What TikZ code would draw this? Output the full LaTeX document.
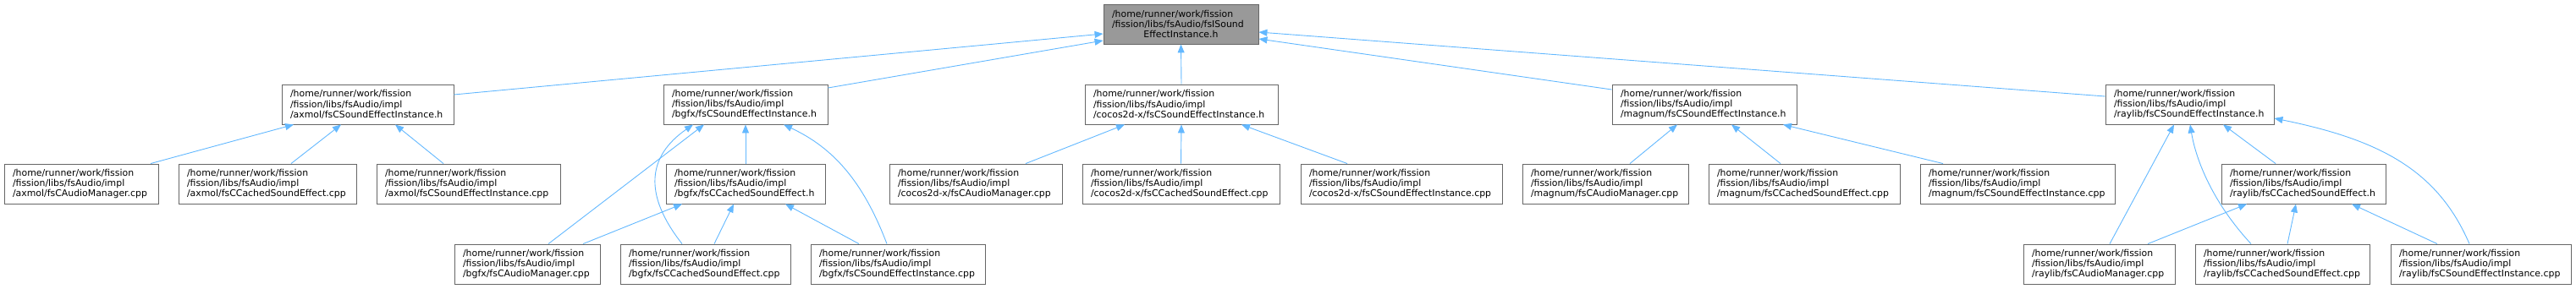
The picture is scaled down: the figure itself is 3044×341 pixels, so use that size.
\documentclass[tikz,border=0pt]{standalone}
\usepackage{fontspec}
\setmainfont{DejaVu Sans}
\usetikzlibrary{arrows.meta}
\definecolor{edgeblue}{HTML}{63B8FF}
\definecolor{boxborder}{HTML}{666666}
\definecolor{topfill}{HTML}{999999}
\tikzset{
  box/.style={draw=boxborder, line width=0.9pt, fill=white, inner xsep=10pt, inner ysep=0pt,
    align=left, font=\fontsize{10.9}{12.2}\selectfont, anchor=center},
  edge/.style={draw=edgeblue, line width=0.9pt, -{Triangle[length=10pt,width=8pt]}}
}
\newcommand\dbox[7][]{%
  \pgfmathsetmacro\bw{#5-#3}\pgfmathsetmacro\bh{#6-#4}\pgfmathsetmacro\tw{#5-#3-20}%
  \pgfmathsetmacro\cx{(#3+#5)/2}\pgfmathsetmacro\cy{(#4+#6)/2}%
  \node[box,#1,minimum width=\bw pt,minimum height=\bh pt,text width=\tw pt] (#2) at (\cx,\cy) {#7};}
\newcommand\pre{/home/runner/work/fission\\/fission/libs/fsAudio/impl\\}
\begin{document}
\begin{tikzpicture}[x=1pt,y=-1pt]
\useasboundingbox (0,0) rectangle (3044,341);
% row 1
\dbox[fill=topfill]{top}{1304}{5}{1487}{52}{/home/runner/work/fission\\/fission/libs/fsAudio/fsISound\\\makebox[163pt][c]{EffectInstance.h}}
% row 2
\dbox{axh}{333}{100}{536}{147}{\pre/axmol/fsCSoundEffectInstance.h}
\dbox{bgh}{784}{100}{978}{147}{\pre/bgfx/fsCSoundEffectInstance.h}
\dbox{coh}{1282}{100}{1510}{147}{\pre/cocos2d-x/fsCSoundEffectInstance.h}
\dbox{mah}{1905}{100}{2123}{147}{\pre/magnum/fsCSoundEffectInstance.h}
\dbox{rah}{2488}{100}{2687}{147}{\pre/raylib/fsCSoundEffectInstance.h}
% row 3
\dbox{axam}{5}{194}{187}{241}{\pre/axmol/fsCAudioManager.cpp}
\dbox{axcse}{211}{194}{421}{241}{\pre/axmol/fsCCachedSoundEffect.cpp}
\dbox{axsei}{445}{194}{662}{241}{\pre/axmol/fsCSoundEffectInstance.cpp}
\dbox{bgcseh}{787}{194}{975}{241}{\pre/bgfx/fsCCachedSoundEffect.h}
\dbox{coam}{1051}{194}{1255}{241}{\pre/cocos2d-x/fsCAudioManager.cpp}
\dbox{cocse}{1279}{194}{1512}{241}{\pre/cocos2d-x/fsCCachedSoundEffect.cpp}
\dbox{cosei}{1537}{194}{1775}{241}{\pre/cocos2d-x/fsCSoundEffectInstance.cpp}
\dbox{maam}{1799}{194}{1995}{241}{\pre/magnum/fsCAudioManager.cpp}
\dbox{macse}{2019}{194}{2245}{241}{\pre/magnum/fsCCachedSoundEffect.cpp}
\dbox{masei}{2269}{194}{2499}{241}{\pre/magnum/fsCSoundEffectInstance.cpp}
\dbox{racseh}{2625}{194}{2819}{241}{\pre/raylib/fsCCachedSoundEffect.h}
% row 4
\dbox{bgam}{537}{289}{709}{336}{\pre/bgfx/fsCAudioManager.cpp}
\dbox{bgcse}{733}{289}{934}{336}{\pre/bgfx/fsCCachedSoundEffect.cpp}
\dbox{bgsei}{958}{289}{1164}{336}{\pre/bgfx/fsCSoundEffectInstance.cpp}
\dbox{raam}{2391}{289}{2570}{336}{\pre/raylib/fsCAudioManager.cpp}
\dbox{racse}{2594}{289}{2800}{336}{\pre/raylib/fsCCachedSoundEffect.cpp}
\dbox{rasei}{2825}{289}{3038}{336}{\pre/raylib/fsCSoundEffectInstance.cpp}
% edges to top
\draw[edge] ([yshift=11.5pt]axh.east) -- ([yshift=-11.5pt]top.west);
\draw[edge] ([yshift=19.5pt]bgh.east) -- ([yshift=-19.5pt]top.west);
\draw[edge] (coh.north) -- (top.south);
\draw[edge] ([yshift=17.5pt]mah.west) -- ([yshift=-17.5pt]top.east);
\draw[edge] ([yshift=9.5pt]rah.west) -- ([yshift=-9.5pt]top.east);
% axmol
\draw[edge] ([xshift=82pt]axam.north) -- ([xshift=-87.5pt]axh.south);
\draw[edge] ([xshift=28pt]axcse.north) -- ([xshift=-31.5pt]axh.south);
\draw[edge] ([xshift=-29.5pt]axsei.north) -- ([xshift=32.5pt]axh.south);
% bgfx
\draw[edge] (bgcseh.north) -- (bgh.south);
\draw[edge] ([xshift=25pt]bgam.north) -- ([xshift=-49pt]bgh.south);
\draw[edge] ([xshift=-27.5pt]bgcse.north) .. controls (760,230) and (765,185) .. ([xshift=-62pt]bgh.south);
\draw[edge] ([xshift=66pt]bgam.north) -- ([xshift=-75pt]bgcseh.south);
\draw[edge] ([xshift=10.5pt]bgcse.north) -- ([xshift=-14pt]bgcseh.south);
\draw[edge] ([xshift=-46pt]bgsei.north) -- ([xshift=47pt]bgcseh.south);
\draw[edge] ([xshift=-13pt]bgsei.north) .. controls (1020,215) and (985,175) .. ([xshift=45pt]bgh.south);
% cocos
\draw[edge] ([xshift=59pt]coam.north) -- ([xshift=-67pt]coh.south);
\draw[edge] (cocse.north) -- (coh.south);
\draw[edge] ([xshift=-64pt]cosei.north) -- ([xshift=71pt]coh.south);
% magnum
\draw[edge] ([xshift=29pt]maam.north) -- ([xshift=-32pt]mah.south);
\draw[edge] ([xshift=-28pt]macse.north) -- ([xshift=32pt]mah.south);
\draw[edge] ([xshift=-88pt]masei.north) -- ([xshift=93pt]mah.south);
% raylib
\draw[edge] ([xshift=12.5pt]raam.north) -- ([xshift=-18.5pt]rah.south);
\draw[edge] ([xshift=-37pt]racse.north) .. controls (2615,240) and (2595,190) .. ([xshift=0.5pt]rah.south);
\draw[edge] ([xshift=-33pt]racseh.north) -- ([xshift=39.5pt]rah.south);
\draw[edge] ([xshift=-13.5pt]rasei.north) .. controls (2880,200) and (2810,165) .. ([yshift=-16.5pt]rah.east);
\draw[edge] ([xshift=57.5pt]raam.north) -- ([xshift=-67pt]racseh.south);
\draw[edge] ([xshift=6pt]racse.north) -- ([xshift=-9pt]racseh.south);
\draw[edge] ([xshift=-51.5pt]rasei.north) -- ([xshift=57pt]racseh.south);
\end{tikzpicture}
\end{document}
